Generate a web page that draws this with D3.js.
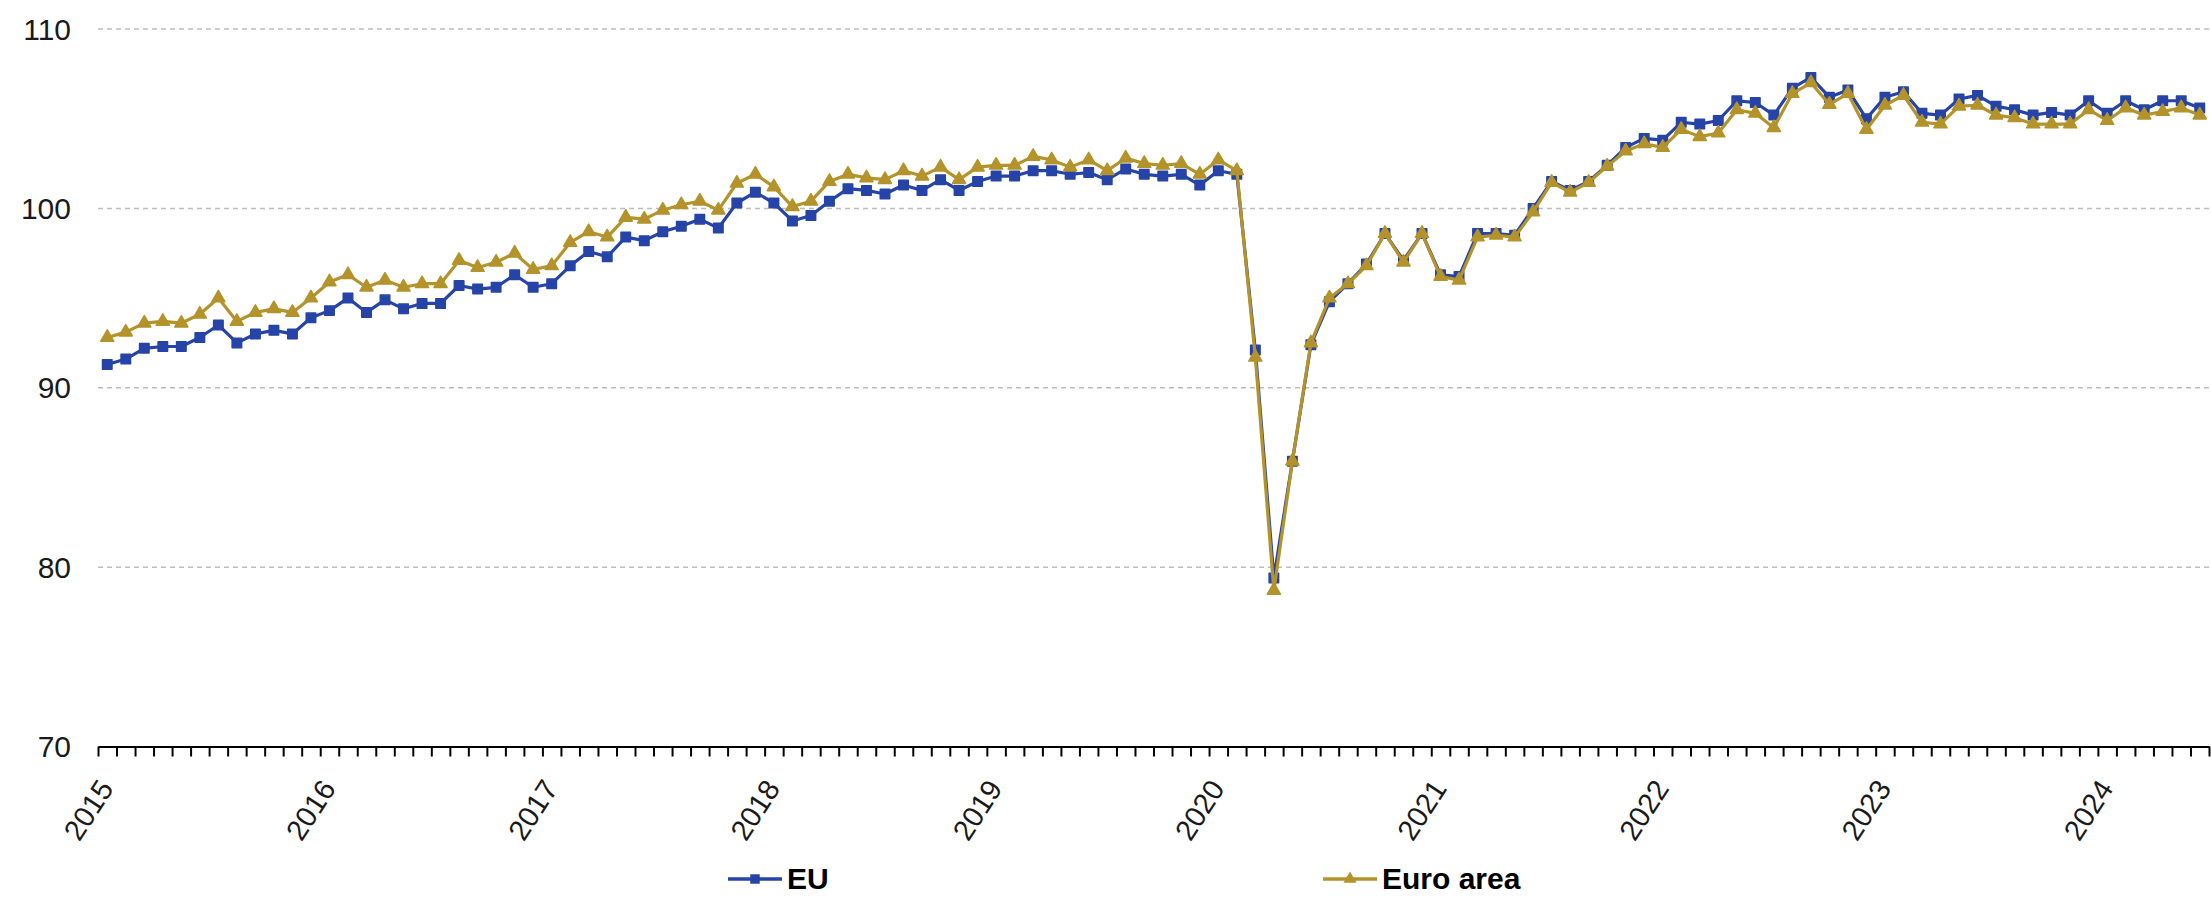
<!DOCTYPE html>
<html>
<head>
<meta charset="utf-8">
<script src="https://cdn.jsdelivr.net/npm/d3@7"></script>
<style>
  body { margin: 0; background: #fff; }
  svg { display: block; font-family: "Liberation Sans", Arial, sans-serif; }
</style>
</head>
<body>
<svg id="chart" width="2211" height="897"></svg>
<script>
// monthly index, Jan 2015 - Jun 2024
var years = [2015, 2016, 2017, 2018, 2019, 2020, 2021, 2022, 2023, 2024];
var yTicks = [70, 80, 90, 100, 110];
var seriesNames = ["EU", "Euro area"];

var euValues = [
  91.3, 91.6, 92.2, 92.3, 92.3, 92.8, 93.5, 92.5, 93.0, 93.2, 93.0, 93.9,
  94.3, 95.0, 94.2, 94.9, 94.4, 94.7, 94.7, 95.7, 95.5, 95.6, 96.3, 95.6,
  95.8, 96.8, 97.6, 97.3, 98.4, 98.2, 98.7, 99.0, 99.4, 98.9, 100.3, 100.9,
  100.3, 99.3, 99.6, 100.4, 101.1, 101.0, 100.8, 101.3, 101.0, 101.6, 101.0, 101.5,
  101.8, 101.8, 102.1, 102.1, 101.9, 102.0, 101.6, 102.2, 101.9, 101.8, 101.9, 101.3,
  102.1, 101.9, 92.1, 79.4, 85.9, 92.4, 94.8, 95.8, 96.9, 98.6, 97.1, 98.6,
  96.3, 96.2, 98.6, 98.6, 98.5, 100.0, 101.5, 101.0, 101.5, 102.4, 103.4, 103.9,
  103.8, 104.8, 104.7, 104.9, 106.0, 105.9, 105.2, 106.7, 107.3, 106.2, 106.6, 105.0,
  106.2, 106.5, 105.3, 105.2, 106.1, 106.3, 105.7, 105.5, 105.2, 105.35, 105.2, 106.0,
  105.3, 106.0, 105.5, 106.0, 106.0, 105.6
];

var eaValues = [
  92.8, 93.1, 93.6, 93.7, 93.6, 94.1, 95.0, 93.7, 94.2, 94.4, 94.2, 95.0,
  95.9, 96.3, 95.6, 96.0, 95.6, 95.8, 95.8, 97.1, 96.7, 97.0, 97.5, 96.6,
  96.8, 98.1, 98.7, 98.4, 99.5, 99.4, 99.9, 100.2, 100.4, 99.9, 101.4, 101.9,
  101.2, 100.1, 100.4, 101.5, 101.9, 101.7, 101.6, 102.1, 101.8, 102.3, 101.6, 102.3,
  102.4, 102.4, 102.9, 102.7, 102.3, 102.7, 102.1, 102.8, 102.5, 102.4, 102.5, 101.9,
  102.7, 102.1, 91.7, 78.7, 85.9, 92.5, 95.0, 95.8, 96.8, 98.6, 97.0, 98.6,
  96.2, 96.0, 98.4, 98.5, 98.4, 99.8, 101.45, 100.9, 101.45, 102.35, 103.2, 103.6,
  103.4, 104.4, 104.0, 104.2, 105.5, 105.3, 104.5, 106.4, 107.0, 105.8, 106.4, 104.4,
  105.75, 106.3, 104.8, 104.7, 105.7, 105.75, 105.2, 105.05, 104.7, 104.7, 104.7, 105.5,
  104.9, 105.6, 105.2, 105.4, 105.6, 105.2
];

var colors = { "EU": "#2644A7", "Euro area": "#B3932A" };

var svg = d3.select("#chart");
var nMonths = euValues.length;

var x = d3.scaleLinear().domain([0, nMonths]).range([98, 2209]);
var y = d3.scaleLinear().domain([70, 110]).range([746.5, 29]);

// dashed gridlines
svg.append("g")
  .selectAll("line")
  .data(yTicks.filter(function(d){ return d > 70; }))
  .enter().append("line")
  .attr("x1", x(0)).attr("x2", x(nMonths))
  .attr("y1", function(d){ return y(d); })
  .attr("y2", function(d){ return y(d); })
  .attr("stroke", "#bdbdbd")
  .attr("stroke-width", 1.5)
  .attr("stroke-dasharray", "5,4");

// y labels
svg.append("g")
  .selectAll("text")
  .data(yTicks)
  .enter().append("text")
  .attr("x", 71)
  .attr("y", function(d){ return y(d); })
  .attr("dy", "0.35em")
  .attr("text-anchor", "end")
  .attr("font-size", 30)
  .attr("fill", "#1a1a1a")
  .text(function(d){ return d; });

// x axis, a tick per month, label per year
var xAxis = d3.axisBottom(x)
  .tickValues(d3.range(0, nMonths + 1))
  .tickSize(10)
  .tickSizeOuter(0)
  .tickFormat(function(d){
    return d % 12 === 0 && d / 12 < years.length ? years[d / 12] : "";
  });

var gx = svg.append("g")
  .attr("transform", "translate(0," + y(70) + ")")
  .call(xAxis);
gx.select(".domain").attr("stroke", "#000").attr("stroke-width", 2);
gx.selectAll(".tick line").attr("stroke", "#000").attr("stroke-width", 2);
gx.selectAll(".tick text")
  .attr("x", 0).attr("y", 0).attr("dy", 0)
  .attr("transform", "translate(16,42) rotate(-57)")
  .attr("text-anchor", "end")
  .attr("font-size", 29)
  .attr("font-family", "Liberation Sans, Arial, sans-serif")
  .attr("fill", "#1a1a1a");

// series
var line = d3.line()
  .x(function(d, i){ return x(i + 0.5); })
  .y(function(d){ return y(d); });

var series = [
  { name: "EU", values: euValues, symbol: d3.symbolSquare, size: 90 },
  { name: "Euro area", values: eaValues, symbol: d3.symbolTriangle, size: 75 }
];

series.forEach(function(s){
  var g = svg.append("g");
  g.append("path")
    .datum(s.values)
    .attr("d", line)
    .attr("fill", "none")
    .attr("stroke", colors[s.name])
    .attr("stroke-width", 3.2)
    .attr("stroke-linejoin", "round");
  g.selectAll("path.m")
    .data(s.values)
    .enter().append("path")
    .attr("class", "m")
    .attr("d", d3.symbol().type(s.symbol).size(s.size))
    .attr("transform", function(d, i){ return "translate(" + x(i + 0.5) + "," + y(d) + ")"; })
    .attr("fill", colors[s.name])
    .attr("stroke", colors[s.name])
    .attr("stroke-width", 1.5)
    .attr("stroke-linejoin", "round");
});

// legend
var legendX = [728, 1323];
var legend = svg.append("g")
  .selectAll("g")
  .data(series)
  .enter().append("g")
  .attr("transform", function(d, i){ return "translate(" + legendX[i] + ",879)"; });
legend.append("line")
  .attr("x1", 0).attr("x2", 54)
  .attr("stroke", function(d){ return colors[d.name]; })
  .attr("stroke-width", 3.5);
legend.append("path")
  .attr("d", function(d){ return d3.symbol().type(d.symbol).size(d.size)(); })
  .attr("transform", "translate(27,0)")
  .attr("fill", function(d){ return colors[d.name]; });
legend.append("text")
  .attr("x", 59)
  .attr("y", 10)
  .attr("font-size", 30)
  .attr("font-weight", "bold")
  .attr("fill", "#000")
  .text(function(d){ return d.name; });
</script>
</body>
</html>
